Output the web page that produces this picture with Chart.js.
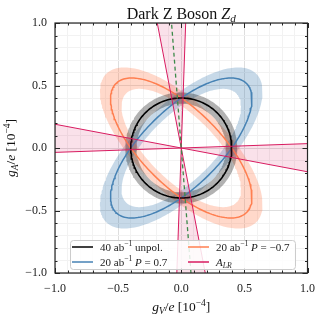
<!DOCTYPE html>
<html>
<head>
<meta charset="utf-8">
<script src="https://cdn.jsdelivr.net/npm/chart.js@4.4.1/dist/chart.umd.min.js"></script>
<style>
  html, body { margin: 0; padding: 0; background: #fff; }
</style>
</head>
<body>
<canvas id="grafico" width="324" height="320"></canvas>
<script>
// valores (unidades de 1e-4)
const raioUnpol = 0.4;                 // círculo 40 ab^-1 não polarizado
const polarizacoes = [0.7, -0.7];      // elipses azul e laranja
const bandaUnpol = [0.885, 1.11];      // faixa cinza (fator de escala interno / externo)
const bandaPol = [0.845, 1.15];        // faixas azul e laranja
const alrLimites = [-0.19, 0.035];     // inclinações das retas limite de A_LR
const alrCentral = -0.077;             // reta central (tracejada verde)
const ticksMaiores = [-1.0, -0.5, 0.0, 0.5, 1.0];

const FONTE = '"Liberation Serif", "DejaVu Serif", serif';
const cores = {
    azul: '#4682b4',
    laranja: '#ff7f50',
    preto: '#000000',
    rosa: '#d81b60',
    verde: '#3d8a4a'
};

function elipse(P, escala) {
    const pts = [];
    const a = raioUnpol * escala / Math.sqrt(1 - P);
    const b = raioUnpol * escala / Math.sqrt(1 + P);
    for (let i = 0; i <= 200; i++) {
        const t = i / 200 * 2 * Math.PI;
        const u = a * Math.cos(t), w = b * Math.sin(t);
        pts.push({ x: (u + w) / Math.SQRT2, y: (u - w) / Math.SQRT2 });
    }
    return pts;
}

// anel entre a elipse externa e a interna (interna em sentido inverso)
function banda(P, fatores) {
    return elipse(P, fatores[1]).concat(elipse(P, fatores[0]).reverse());
}

// cunha de A_LR (duas retas pela origem), estendida além dos eixos e cortada pela área
function cunha(vertical) {
    const E = 1.6;
    const [s1, s2] = alrLimites;
    const raw = [[0, 0], [-E, -s1 * E], [-E, -s2 * E], [0, 0], [E, s2 * E], [E, s1 * E], [0, 0]];
    return raw.map(([u, v]) => vertical ? { x: v, y: u } : { x: u, y: v });
}

function retaCentral() {
    const E = 1.6;
    return [{ x: alrCentral * E, y: E }, { x: -alrCentral * E, y: -E }];
}

const ehMaior = (v) => ticksMaiores.some(m => Math.abs(m - v) < 1e-6);
const formatar = (v) => (Math.abs(v) < 1e-9 ? 0 : v).toFixed(1).replace('-', '\u2212');

function alfa(hex, a) {
    const n = parseInt(hex.slice(1), 16);
    return `rgba(${n >> 16},${(n >> 8) & 255},${n & 255},${a})`;
}

// texto com itálico / sobrescrito / subscrito
function larguraRich(ctx, partes, tam) {
    let w = 0;
    for (const p of partes) {
        const s = (p.sup || p.sub) ? tam * 0.7 : tam;
        ctx.font = `${p.it ? 'italic ' : ''}${s}px ${FONTE}`;
        w += ctx.measureText(p.t).width;
    }
    return w;
}

function desenharRich(ctx, partes, x, y, tam, alinhar = 'left') {
    let cx = x;
    const total = larguraRich(ctx, partes, tam);
    if (alinhar === 'center') cx = x - total / 2;
    ctx.textBaseline = 'alphabetic';
    ctx.textAlign = 'left';
    for (const p of partes) {
        const s = (p.sup || p.sub) ? tam * 0.7 : tam;
        ctx.font = `${p.it ? 'italic ' : ''}${s}px ${FONTE}`;
        const dy = p.sup ? -tam * 0.38 : (p.sub ? tam * 0.22 : 0);
        ctx.fillText(p.t, cx, y + dy);
        cx += ctx.measureText(p.t).width;
    }
}

const legendaItens = [
    { cor: cores.preto, x: 72, y: 247, partes: [{ t: '40 ab' }, { t: '\u22121', sup: true }, { t: ' unpol.' }] },
    { cor: cores.laranja, x: 188, y: 247, partes: [{ t: '20 ab' }, { t: '\u22121', sup: true }, { t: ' ' }, { t: 'P', it: true }, { t: ' = \u22120.7' }] },
    { cor: cores.azul, x: 72, y: 262, partes: [{ t: '20 ab' }, { t: '\u22121', sup: true }, { t: ' ' }, { t: 'P', it: true }, { t: ' = 0.7' }] },
    { cor: cores.rosa, x: 188, y: 262, partes: [{ t: 'A', it: true }, { t: 'LR', it: true, sub: true }] }
];

const moldura = {
    id: 'moldura',
    afterDraw(chart) {
        const ctx = chart.ctx;
        const { left, right, top, bottom } = chart.chartArea;
        const sx = chart.scales.x, sy = chart.scales.y;
        ctx.save();
        ctx.strokeStyle = '#262626';
        ctx.lineWidth = 1;
        // ticks para dentro nos quatro lados
        for (const t of sx.ticks) {
            const px = Math.round(sx.getPixelForValue(t.value)) + 0.5;
            const L = ehMaior(t.value) ? 5 : 2.5;
            ctx.beginPath();
            ctx.moveTo(px, bottom); ctx.lineTo(px, bottom - L);
            ctx.moveTo(px, top); ctx.lineTo(px, top + L);
            ctx.stroke();
        }
        for (const t of sy.ticks) {
            const py = Math.round(sy.getPixelForValue(t.value)) + 0.5;
            const L = ehMaior(t.value) ? 5 : 2.5;
            ctx.beginPath();
            ctx.moveTo(left, py); ctx.lineTo(left + L, py);
            ctx.moveTo(right, py); ctx.lineTo(right - L, py);
            ctx.stroke();
        }
        ctx.lineWidth = 1.2;
        ctx.strokeRect(left, top, right - left, bottom - top);

        // legenda
        ctx.beginPath();
        ctx.roundRect(70.5, 240.5, 225, 29, 3);
        ctx.fillStyle = 'rgba(255,255,255,0.85)';
        ctx.fill();
        ctx.strokeStyle = '#cccccc';
        ctx.lineWidth = 1;
        ctx.stroke();
        for (const it of legendaItens) {
            ctx.strokeStyle = it.cor;
            ctx.lineWidth = 1.5;
            ctx.beginPath();
            ctx.moveTo(it.x, it.y); ctx.lineTo(it.x + 21, it.y);
            ctx.stroke();
            ctx.fillStyle = '#222';
            desenharRich(ctx, it.partes, it.x + 28, it.y + 3.5, 11);
        }

        // títulos
        ctx.fillStyle = '#111';
        desenharRich(ctx, [{ t: 'Dark Z Boson ' }, { t: 'Z', it: true }, { t: 'd', it: true, sub: true }],
            (left + right) / 2, 18.5, 16, 'center');
        desenharRich(ctx, [{ t: 'g', it: true }, { t: 'V', it: true, sub: true }, { t: '/' }, { t: 'e', it: true },
            { t: ' [10' }, { t: '\u22124', sup: true }, { t: ']' }], (left + right) / 2, 311, 13.5, 'center');
        ctx.translate(15, (top + bottom) / 2);
        ctx.rotate(-Math.PI / 2);
        desenharRich(ctx, [{ t: 'g', it: true }, { t: 'A', it: true, sub: true }, { t: '/' }, { t: 'e', it: true },
            { t: ' [10' }, { t: '\u22124', sup: true }, { t: ']' }], 0, 0, 13.5, 'center');
        ctx.restore();
    }
};

const conjuntos = [
    // faixas
    { data: banda(polarizacoes[0], bandaPol), backgroundColor: alfa(cores.azul, 0.3), fill: 'shape', borderWidth: 0, order: 20 },
    { data: banda(polarizacoes[1], bandaPol), backgroundColor: alfa(cores.laranja, 0.3), fill: 'shape', borderWidth: 0, order: 19 },
    { data: banda(0, bandaUnpol), backgroundColor: 'rgba(0,0,0,0.3)', fill: 'shape', borderWidth: 0, order: 18 },
    // linhas
    { data: elipse(polarizacoes[0], 1), borderColor: cores.azul, borderWidth: 1.5, fill: false, order: 10 },
    { data: elipse(polarizacoes[1], 1), borderColor: cores.laranja, borderWidth: 1.5, fill: false, order: 9 },
    { data: elipse(0, 1), borderColor: cores.preto, borderWidth: 1.6, fill: false, order: 8 },
    // A_LR
    { data: cunha(false), borderColor: cores.rosa, backgroundColor: alfa(cores.rosa, 0.13), fill: 'shape', borderWidth: 1, order: 7 },
    { data: cunha(true), borderColor: cores.rosa, backgroundColor: alfa(cores.rosa, 0.13), fill: 'shape', borderWidth: 1, order: 6 },
    { data: retaCentral(), borderColor: cores.verde, borderWidth: 1.3, borderDash: [4, 3], fill: false, order: 5 }
];

const eixo = (extra, pad) => Object.assign({
    type: 'linear',
    min: -1,
    max: 1,
    grid: {
        color: (c) => ehMaior(c.tick.value) ? '#dedede' : '#f2f2f2',
        lineWidth: 1,
        drawTicks: false
    },
    border: { display: false },
    ticks: {
        stepSize: 0.1,
        autoSkip: false,
        maxRotation: 0,
        padding: pad,
        color: '#222',
        font: { family: FONTE, size: 12 },
        callback: (v) => ehMaior(v) ? formatar(v) : ''
    }
}, extra);

new Chart(document.getElementById('grafico'), {
    type: 'scatter',
    data: { datasets: conjuntos.map(d => Object.assign({ showLine: true, pointRadius: 0, tension: 0 }, d)) },
    options: {
        responsive: false,
        animation: false,
        layout: { padding: { top: 23, right: 15, left: 0, bottom: 0 } },
        plugins: { legend: { display: false }, tooltip: { enabled: false } },
        scales: {
            x: eixo({ position: 'bottom', afterFit: (s) => { s.height = 47; } }, 9),
            y: eixo({ position: 'left', afterFit: (s) => { s.width = 55; } }, 8)
        }
    },
    plugins: [moldura]
});
</script>
</body>
</html>
